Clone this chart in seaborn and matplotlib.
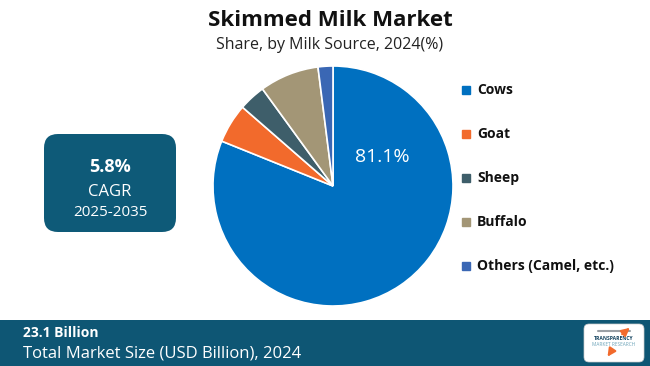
import matplotlib
matplotlib.use("Agg")
import matplotlib.pyplot as plt
import seaborn as sns
from matplotlib.patches import FancyBboxPatch, Rectangle

# ========================
# Data
# ========================
sources = ["Cows", "Goat", "Sheep", "Buffalo", "Others (Camel, etc.)"]
shares = [81.1, 5.3, 3.6, 8.0, 2.0]
colors = ["#0070C0", "#F26A2C", "#3E5E6A", "#A39676", "#3A67B4"]

title = "Skimmed Milk Market"
subtitle = "Share, by Milk Source, 2024(%)"
cagr_value = "5.8%"
cagr_period = "2025-2035"
market_size = "23.1 Billion"
market_label = "Total Market Size (USD Billion), 2024"

sns.set_theme(style="white")
plt.rcParams["font.family"] = ["Open Sans", "DejaVu Sans"]

W, H = 650, 366
fig = plt.figure(figsize=(W / 100, H / 100), dpi=100)
fig.patch.set_facecolor("white")

# background axes in pixel coords (y down)
bg = fig.add_axes([0, 0, 1, 1])
bg.set_xlim(0, W)
bg.set_ylim(H, 0)
bg.axis("off")

# ========================
# Pie
# ========================
cx, cy, r = 333, 186, 120
pie_ax = fig.add_axes([(cx - r) / W, 1 - (cy + r) / H, 2 * r / W, 2 * r / H])
wedges, _ = pie_ax.pie(shares, colors=colors, startangle=90, counterclock=False,
                       wedgeprops=dict(edgecolor="white", linewidth=1.2))
pie_ax.set_xlim(-1, 1)
pie_ax.set_ylim(-1, 1)
pie_ax.set_aspect("auto")
pie_ax.text(0.41, 0.24, f"{shares[0]}%", color="white", fontsize=14,
            ha="center", va="center")

# titles
bg.text(330, 20, title, fontsize=16, fontweight="bold", ha="center", va="center", color="#111111")
bg.text(330, 45, subtitle, fontsize=11.5, ha="center", va="center", color="#222222")

# ========================
# Legend
# ========================
for i, (name, col) in enumerate(zip(sources, colors)):
    y = 90 + i * 44
    bg.add_patch(Rectangle((462, y - 4), 8, 8, color=col))
    bg.text(477, y, name, fontsize=10, fontweight="bold", va="center", color="#111111")

# ========================
# CAGR box
# ========================
bg.add_patch(FancyBboxPatch((48, 138), 124, 90, boxstyle="round,pad=4,rounding_size=14",
                            facecolor="#0E5A78", edgecolor="none"))
bg.text(110, 167, cagr_value, fontsize=13, fontweight="bold", color="white", ha="center", va="center")
bg.text(110, 192, "CAGR", fontsize=12, color="white", ha="center", va="center")
bg.text(110, 213, cagr_period, fontsize=11, color="white", ha="center", va="center")

# ========================
# Footer
# ========================
bg.add_patch(Rectangle((0, 320), W, 46, facecolor="#0E5674", edgecolor="none"))
bg.text(23, 333, market_size, fontsize=10, fontweight="bold", color="white", va="center")
bg.text(23, 353, market_label, fontsize=12, color="white", va="center")

# logo
bg.add_patch(FancyBboxPatch((585, 325), 58, 36, boxstyle="round,pad=1,rounding_size=5",
                            facecolor="white", edgecolor="#cccccc", linewidth=0.5))
bg.text(614, 339, "TRANSPARENCY", fontsize=3.6, fontweight="bold", color="#0E3F5C", ha="center", va="center")
bg.text(614, 345, "MARKET RESEARCH", fontsize=3.4, color="#6BA3B8", ha="center", va="center")
bg.plot([598, 630], [331, 331], color="#9aa0a6", lw=1.5)
bg.annotate("", xy=(632, 326), xytext=(620, 336),
            arrowprops=dict(arrowstyle="-|>", color="#F26A2C", lw=1.5))
bg.annotate("", xy=(606, 359), xytext=(612, 350),
            arrowprops=dict(arrowstyle="-|>", color="#F26A2C", lw=1.5))

fig.savefig("out.png", dpi=100)
